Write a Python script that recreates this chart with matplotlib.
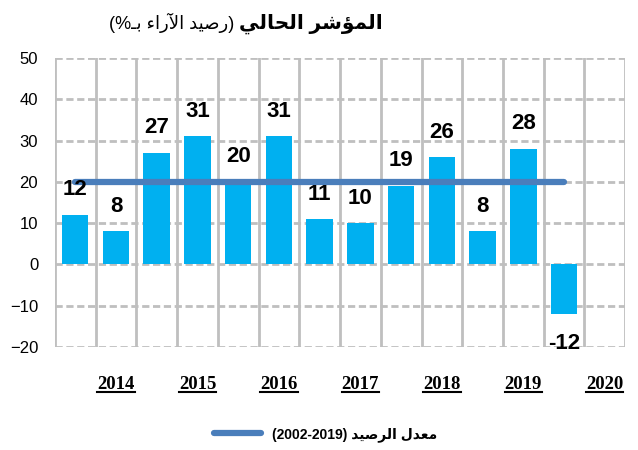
import re
import numpy as np
import matplotlib
matplotlib.use("Agg")
import matplotlib.pyplot as plt
from matplotlib.lines import Line2D

# half-year survey balances (%), last slot (2020 H2) empty
values = [12, 8, 27, 31, 20, 31, 11, 10, 19, 26, 8, 28, -12]
avg_values = [20, 20, 20, 20, 20, 20, 20, 20, 20, 20, 20, 20, 20]
years = ['2014', '2015', '2016', '2017', '2018', '2019', '2020']
n_slots = 14

title_bold = "المؤشر الحالي"
title_rest = "(رصيد الآراء بـ%)"
legend_label = "معدل الرصيد (2002-2019)"

bar_color = '#00B0F0'
line_color = '#4A7EBB'
grid_color = '#BFBFBF'

# --- tiny arabic shaper (matplotlib draws no joined / rtl text) ---
FORMS = {
    'ا': ('\uFE8D', '\uFE8E', None, None),
    'آ': ('\uFE81', '\uFE82', None, None),
    'ؤ': ('\uFE85', '\uFE86', None, None),
    'ر': ('\uFEAD', '\uFEAE', None, None),
    'د': ('\uFEA9', '\uFEAA', None, None),
    'ء': ('\uFE80', None, None, None),
    'ب': ('\uFE8F', '\uFE90', '\uFE91', '\uFE92'),
    'ل': ('\uFEDD', '\uFEDE', '\uFEDF', '\uFEE0'),
    'م': ('\uFEE1', '\uFEE2', '\uFEE3', '\uFEE4'),
    'ش': ('\uFEB5', '\uFEB6', '\uFEB7', '\uFEB8'),
    'ح': ('\uFEA1', '\uFEA2', '\uFEA3', '\uFEA4'),
    'ي': ('\uFEF1', '\uFEF2', '\uFEF3', '\uFEF4'),
    'ص': ('\uFEB9', '\uFEBA', '\uFEBB', '\uFEBC'),
    'ع': ('\uFEC9', '\uFECA', '\uFECB', '\uFECC'),
    'ـ': ('ـ', 'ـ', 'ـ', 'ـ'),
}
LAM_ALEF = {'ا': ('\uFEFB', '\uFEFC', None, None),
            'آ': ('\uFEF5', '\uFEF6', None, None)}


def shape(text):
    chars = []
    i = 0
    while i < len(text):
        if text[i] == 'ل' and i + 1 < len(text) and text[i + 1] in LAM_ALEF:
            chars.append(LAM_ALEF[text[i + 1]])
            i += 2
        else:
            chars.append(text[i])
            i += 1

    def forms(c):
        return c if isinstance(c, tuple) else FORMS.get(c)

    out = []
    for k, c in enumerate(chars):
        f = forms(c)
        if f is None:
            out.append(c)
            continue
        prev = forms(chars[k - 1]) if k > 0 else None
        nxt = forms(chars[k + 1]) if k + 1 < len(chars) else None
        jp = prev is not None and prev[2] is not None and f[1] is not None
        jn = f[2] is not None and nxt is not None and nxt[1] is not None
        if jp and jn:
            out.append(f[3])
        elif jp:
            out.append(f[1])
        elif jn:
            out.append(f[2])
        else:
            out.append(f[0])
    return ''.join(out)


def visual(text):
    s = shape(text)[::-1]
    s = re.sub(r'[0-9][0-9\-]*[0-9]|[0-9]', lambda m: m.group(0)[::-1], s)
    return s.translate(str.maketrans('()', ')('))


ar_fam = ['Liberation Sans', 'DejaVu Sans']

fig = plt.figure(figsize=(6.38, 4.5), dpi=100)
ax = fig.add_axes([0.086, 0.229, 0.894, 0.642])

x = np.arange(len(values))
ax.bar(x, values, width=0.65, color=bar_color, zorder=2)
ax.plot(x, avg_values, color=line_color, lw=4.5, solid_capstyle='round', zorder=3)

for xi, v in zip(x, values):
    off = 18 if v >= 0 else -21
    ax.annotate(str(v), (xi, v), xytext=(0, off), textcoords='offset points',
                ha='center', va='center', fontsize=16, fontweight='bold',
                family=['Liberation Sans Narrow', 'Liberation Sans'], zorder=4)

ax.set_xlim(-0.5, n_slots - 0.5)
ax.set_ylim(-20, 50)
ax.set_yticks(np.arange(-20, 51, 10))
ax.set_xticks(np.arange(1, n_slots, 2))
ax.set_xticklabels(years, family='Liberation Serif', fontweight='bold', fontsize=13.5)
ax.tick_params(axis='x', length=0, pad=21)
ax.tick_params(axis='y', length=0, pad=12, labelsize=12)
for lab in ax.get_yticklabels():
    lab.set_family('Liberation Sans')

# grid: dashed horizontals, solid verticals at slot edges
for yv in np.arange(-20, 51, 10):
    ax.axhline(yv, color=grid_color, lw=2, ls=(0, (2.6, 1.3)), zorder=1)
for xv in np.arange(-0.5, n_slots, 1):
    ax.axvline(xv, color=grid_color, lw=2, zorder=1)
for s in ax.spines.values():
    s.set_visible(False)

# title in two weights: bold part on the right, note to its left
t_bold = fig.text(0.600, 0.948, visual(title_bold), ha='right', va='center',
                  fontsize=14.5, fontweight='bold', family=ar_fam)

handle = Line2D([], [], color=line_color, lw=4.5, solid_capstyle='round')
fig.legend([handle], [visual(legend_label)], loc='center',
           bbox_to_anchor=(0.51, 0.035), frameon=False, handlelength=3.4,
           prop=dict(family=ar_fam, weight='bold', size=10))

fig.canvas.draw()
bb_t = t_bold.get_window_extent()
fig.text((bb_t.x0 - 5) / fig.bbox.width, 0.948, visual(title_rest), ha='right',
         va='center', fontsize=13, family=ar_fam)

# underline the year labels
for lab in ax.get_xticklabels():
    bb = lab.get_window_extent()
    y0 = (bb.y0 + 1) / fig.bbox.height
    fig.add_artist(Line2D([bb.x0 / fig.bbox.width, bb.x1 / fig.bbox.width], [y0, y0],
                          color='black', lw=1.5))

plt.savefig('out.png', dpi=100)
